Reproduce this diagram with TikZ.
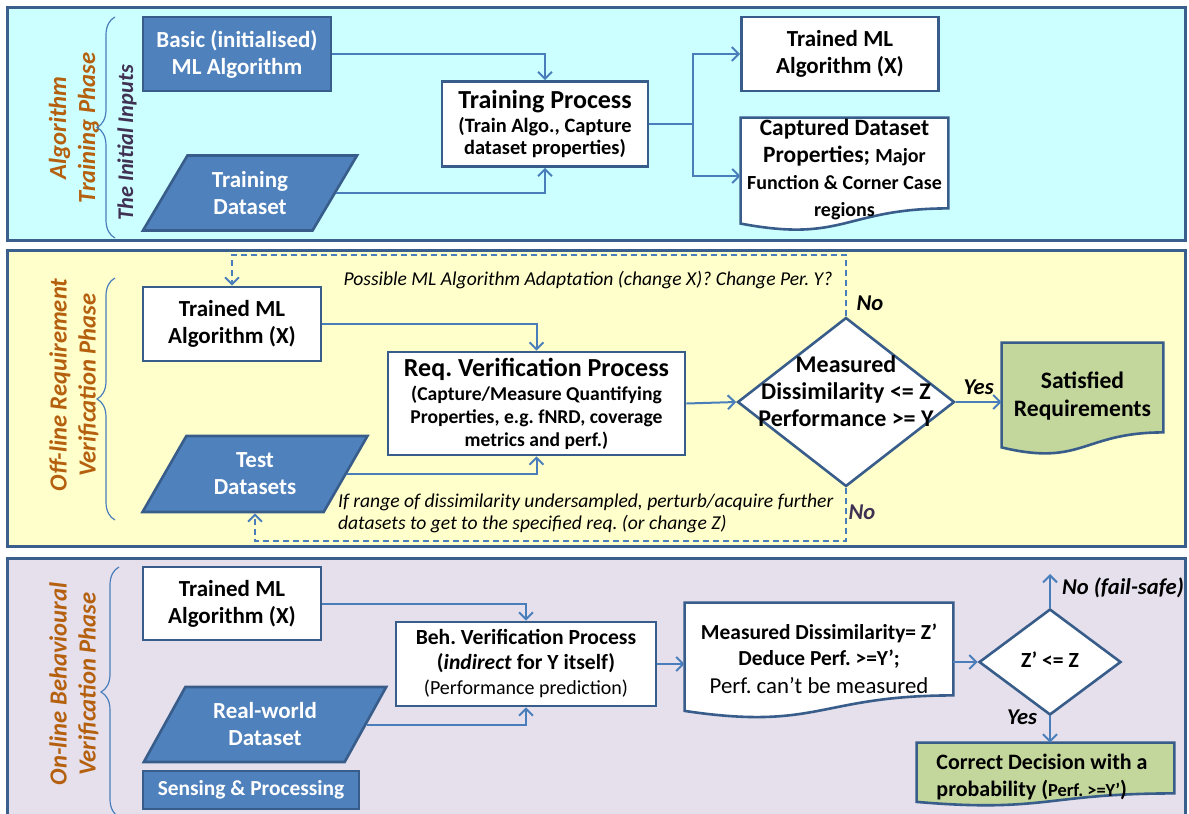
\documentclass[tikz,border=0pt]{standalone}
\usepackage{fontspec}
\setmainfont{Carlito}
\usetikzlibrary{positioning,calc,arrows.meta,shapes.geometric,decorations.pathreplacing}
\frenchspacing

\definecolor{panelline}{HTML}{3A5F8C}
\definecolor{boxline}{HTML}{385D8A}
\definecolor{boxblue}{HTML}{4F81BD}
\definecolor{arrowblue}{HTML}{4A7EBB}
\definecolor{cyanpanel}{HTML}{CCFFFF}
\definecolor{yellowpanel}{HTML}{FFFFCC}
\definecolor{lilacpanel}{HTML}{E5E0EC}
\definecolor{docgreen}{HTML}{C3D69B}
\definecolor{phasebrown}{HTML}{B5600E}
\definecolor{darkviolet}{HTML}{403152}

\pgfdeclarelayer{panels}
\pgfdeclarelayer{shapes}
\pgfsetlayers{panels,shapes,main}

\tikzset{
  panel/.style={draw=panelline, line width=1.5pt},
  bluebox/.style={draw=boxline, fill=boxblue, line width=1.3pt, text=white, align=center, inner sep=0pt,
    font=\bfseries\fontsize{11.5}{13.5}\selectfont},
  whitebox/.style={draw=boxline, fill=white, line width=1.3pt, align=center, inner sep=0pt,
    font=\bfseries\fontsize{11.5}{13.5}\selectfont},
  dataset/.style={bluebox, trapezium, trapezium left angle=58, trapezium right angle=122, trapezium stretches=true},
  docbox/.style={inner sep=0pt},
  doctext/.style={align=center, inner sep=0pt, font=\bfseries\fontsize{11.5}{13.5}\selectfont},
  decision/.style={diamond, draw=boxline, fill=white, line width=1.3pt, inner sep=0pt},
  dectext/.style={align=center, inner sep=0pt, font=\bfseries\fontsize{12}{13.5}\selectfont},
  flow/.style={draw=arrowblue, line width=1pt, -{Straight Barb[length=3.5pt,width=7pt]}},
  loopline/.style={flow, dash pattern=on 3pt off 2pt},
  phase/.style={rotate=90, text=phasebrown, align=center, font=\bfseries\itshape\fontsize{12.3}{14.5}\selectfont},
  inputs/.style={rotate=90, text=darkviolet, font=\bfseries\itshape\fontsize{11.2}{13}\selectfont},
  phasebrace/.style={draw=arrowblue, line width=0.6pt, decorate, decoration={brace, amplitude=9pt}},
  note/.style={font=\itshape\fontsize{9.8}{11}\selectfont},
  answer/.style={font=\bfseries\itshape\fontsize{11.3}{12}\selectfont},
}

\newcommand{\docoutline}[2]{%
  \begin{pgfonlayer}{shapes}
    \path[draw=boxline, line width=1.3pt, fill=#2] (#1.north west) -- (#1.north east) -- (#1.south east)
      .. controls (#1.south) and ($(#1.south)!-0.384!(#1.north)$) .. ($(#1.south west)!-0.167!(#1.north west)$) -- cycle;
  \end{pgfonlayer}}

\begin{document}
\begin{tikzpicture}[x=0.5pt, y=-0.5pt]
            \useasboundingbox (0,0) rectangle (1189,814);
            \begin{pgfonlayer}{panels}
                \draw[panel, fill=cyanpanel] (7,7) rectangle (1185,240);
                \draw[panel, fill=yellowpanel] (7,250) rectangle (1185,546);
                \draw[panel, fill=lilacpanel] (7,558) rectangle (1185,830);
            \end{pgfonlayer}

            % training phase
            \node[phase] (phaseA) at (74,128) {Algorithm\\Training Phase};
            \node[inputs] (inputs) at (127,143) {The Initial Inputs};
            \draw[phasebrace] (115,238) -- (115,17);
            \node[bluebox, minimum width=94pt, minimum height=37pt] (basic) at (237,54) {Basic (initialised)\\ML Algorithm};
            \node[dataset, minimum width=107.5pt, minimum height=37.5pt] (traindata) at (250,193) {Training\\Dataset};
            \node[whitebox, minimum width=103pt, minimum height=42.5pt, font=\bfseries\fontsize{10.2}{11}\selectfont] (trainproc) at (545,124)
                {{\fontsize{13}{15}\selectfont Training Process}\\[1pt](Train Algo., Capture\\dataset properties)};
            \node[whitebox, minimum width=98.5pt, minimum height=37pt] (trainedA) at (840,54) {Trained ML\\Algorithm (X)};
            \node[docbox, minimum width=103.5pt, minimum height=45pt] (captured) at (844.5,163) {};
            \docoutline{captured}{white}
            \node[doctext, font=\bfseries\fontsize{11.7}{13.5}\selectfont] (capturedtext) at (844.5,169)
                {Captured Dataset\\Properties; {\fontsize{10}{11}\selectfont Major}\\{\fontsize{10}{11}\selectfont Function \& Corner Case}\\{\fontsize{10}{11}\selectfont regions}};
            \coordinate (split) at (693,124);
            \draw[flow] (basic.east) -| (trainproc.north);
            \draw[flow] (traindata.east) -| (trainproc.south);
            \draw[flow] (trainproc.east) -- (split) |- (trainedA.west);
            \draw[flow] (split) |- ([yshift=-6.5pt]captured.west);

            % off-line verification phase
            \node[phase] (phaseB) at (74,385) {Off-line Requirement\\Verification Phase};
            \draw[phasebrace] (115,520) -- (115,278);
            \node[whitebox, minimum width=89pt, minimum height=37pt] (trainedB) at (232,324) {Trained ML\\Algorithm (X)};
            \node[dataset, minimum width=112.5pt, minimum height=38pt] (testdata) at (255,474) {Test\\Datasets};
            \node[whitebox, minimum width=148.5pt, minimum height=51.5pt, font=\bfseries\fontsize{9.8}{11.3}\selectfont] (reqproc) at (536.5,403.5)
                {{\fontsize{13}{15}\selectfont Req. Verification Process}\\[1pt](Capture/Measure Quantifying\\Properties, e.g. fNRD, coverage\\metrics and perf.)};
            \node[decision, minimum width=108.5pt, minimum height=84.5pt] (check) at (846,402) {};
            \node[dectext] (checktext) at (846,391) {Measured\\Dissimilarity <= Z\\Performance >= Y};
            \node[docbox, minimum width=80.5pt, minimum height=44.5pt] (satisfied) at (1082.5,387.5) {};
            \docoutline{satisfied}{docgreen}
            \node[doctext, font=\bfseries\fontsize{11.8}{14}\selectfont] (satisfiedtext) at (1082.5,396) {Satisfied\\Requirements};
            \draw[flow] (trainedB.east) -| (reqproc.north);
            \draw[flow] (testdata.east) -| (reqproc.south);
            \draw[flow] (reqproc.east) -- (check.west);
            \draw[flow] (check.east) -- node[answer, above] (yesA) {Yes} (check.east -| satisfied.west);
            \draw[loopline] (check.north) -- ++(0,-61) -| (trainedB.north);
            \draw[loopline] (check.south) -- ++(0,53) -| (testdata.south);
            \node[note] (adapt) at (588,280) {Possible ML Algorithm Adaptation (change X)? Change Per. Y?};
            \node[answer] (noA) at (870,303) {No};
            \node[note, anchor=west, align=left] (perturb) at (331,513)
                {If range of dissimilarity undersampled, perturb/acquire further\\datasets to get to the specified req. (or change Z)};
            \node[answer, text=darkviolet] (noB) at (862,512) {No};

            % on-line verification phase
            \node[phase] (phaseC) at (74,684) {On-line Behavioural\\Verification Phase};
            \draw[phasebrace] (119,817) -- (119,567);
            \node[whitebox, minimum width=89pt, minimum height=36.5pt] (trainedC) at (232,603.5) {Trained ML\\Algorithm (X)};
            \node[dataset, minimum width=122pt, minimum height=37.5pt] (realdata) at (265,724.5) {Real-world\\Dataset};
            \node[bluebox, minimum width=108pt, minimum height=19pt, font=\bfseries\fontsize{10.7}{12}\selectfont] (sensing) at (251,790) {Sensing \& Processing};
            \node[whitebox, minimum width=130pt, minimum height=42pt, font=\bfseries\fontsize{10.8}{12.5}\selectfont] (behproc) at (526,664)
                {Beh. Verification Process\\(\textit{indirect} for Y itself)\\\mdseries\fontsize{10}{12}\selectfont (Performance prediction)};
            \node[docbox, minimum width=134pt, minimum height=46pt] (measured) at (819,649) {};
            \docoutline{measured}{white}
            \node[doctext, font=\bfseries\fontsize{10.7}{13}\selectfont] (measuredtext) at (819,659)
                {Measured Dissimilarity= Z’\\Deduce Perf. >=Y’;\\[1pt]\mdseries\fontsize{11.4}{13}\selectfont Perf. can’t be measured};
            \node[decision, minimum width=71pt, minimum height=53pt] (zcheck) at (1050,662) {};
            \node[dectext, font=\bfseries\fontsize{10.8}{12}\selectfont] (zchecktext) at (1050,660) {Z’ <= Z};
            \node[docbox, minimum width=128.5pt, minimum height=25pt] (correct) at (1045.5,768) {};
            \docoutline{correct}{docgreen}
            \node[doctext, align=left, font=\bfseries\fontsize{11}{13.5}\selectfont] (correcttext) at (1042,777)
                {Correct Decision with a\\probability ({\fontsize{9.2}{10}\selectfont Perf. >=Y’})};
            \coordinate (failsafe) at (1050,574);
            \draw[flow] (trainedC.east) -| (behproc.north);
            \draw[flow] (realdata.east) -| (behproc.south);
            \draw[flow] (behproc.east) -- (behproc.east -| measured.west);
            \draw[flow] (zcheck.west -| measured.east) -- (zcheck.west);
            \draw[flow] (zcheck.north) -- (failsafe);
            \node[answer, anchor=west] (nofail) at (1055,588) {No (fail-safe)};
            \draw[flow] (zcheck.south) -- (zcheck.south |- correct.north);
            \node[answer] (yesB) at (1022,717) {Yes};
\end{tikzpicture}
\end{document}
